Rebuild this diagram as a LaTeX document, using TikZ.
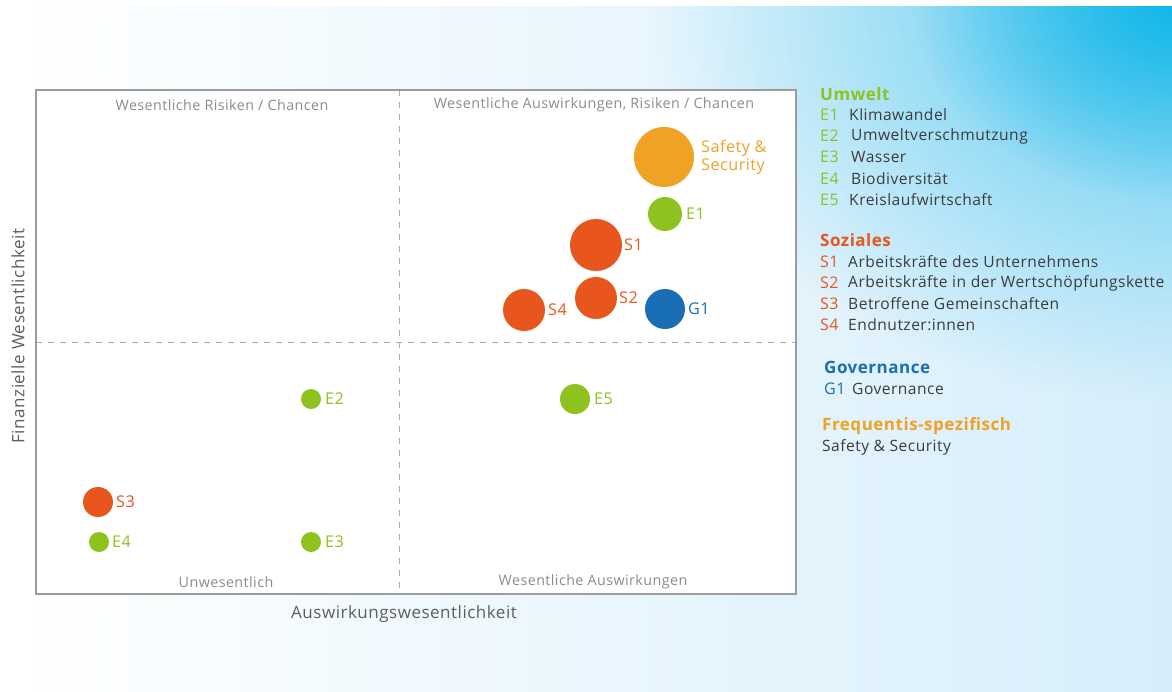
\documentclass[tikz,border=0pt]{standalone}
\usepackage{fontspec}
\setmainfont{Open Sans}[LetterSpace=3]
\usetikzlibrary{fadings}
\definecolor{cgreen}{HTML}{8DC21F}
\definecolor{cred}{HTML}{E8561E}
\definecolor{cblue}{HTML}{1A6EB4}
\definecolor{corange}{HTML}{F0A224}
\definecolor{ccyan}{HTML}{00B2E8}
\definecolor{cbglight}{HTML}{D6EEFB}
\definecolor{cframe}{HTML}{9C9C9C}
\definecolor{cdash}{HTML}{ABABAB}
\definecolor{cquad}{HTML}{8C8C8C}
\definecolor{caxis}{HTML}{5E5E5E}
\definecolor{ctext}{HTML}{3C3C3C}
\tikzfading[name=cornerfade, inner color=transparent!0, outer color=transparent!100]
\tikzset{
  bub/.style={circle, inner sep=0pt, draw=none},
  blabel/.style={anchor=west, inner sep=0pt, font=\fontsize{16.2}{18}\selectfont},
  quad/.style={inner sep=0pt, text=cquad, font=\fontsize{14.3}{16}\selectfont},
  axislbl/.style={inner sep=0pt, text=caxis, font=\fontsize{17}{19}\selectfont},
  leghead/.style={anchor=west, inner sep=0pt, font=\fontsize{17}{19}\selectfont\bfseries},
  legcode/.style={anchor=west, inner sep=0pt, font=\fontsize{16}{18}\selectfont},
  legtext/.style={anchor=west, inner sep=0pt, text=ctext, font=\fontsize{15.6}{18}\selectfont},
}
\begin{document}
\begin{tikzpicture}[x=1pt,y=-1pt]
\useasboundingbox (0,0) rectangle (1172,691);
% background
\shade[left color=white, right color=cbglight] (0,0) rectangle (1172,691);
\begin{scope}
  \clip (0,6) rectangle (1172,691);
  \fill[ccyan, opacity=0.6, path fading=cornerfade] (1172,0) ellipse (520 and 400);
  \fill[ccyan, opacity=0.8, path fading=cornerfade] (1172,0) ellipse (260 and 200);
\end{scope}
\fill[white] (0,0) rectangle (1172,6);
% chart frame
\fill[white] (36,90) rectangle (796,594);
\draw[cdash, line width=1pt, dash pattern=on 6pt off 6pt] (399,90) -- (399,594);
\draw[cdash, line width=1pt, dash pattern=on 6pt off 6pt] (36,342) -- (796,342);
\draw[cframe, line width=1.3pt] (36,90) rectangle (796,594);
% quadrant labels
\node[quad] (q1) at (222,105) {Wesentliche Risiken / Chancen};
\node[quad] (q2) at (594,105) {Wesentliche Auswirkungen, Risiken / Chancen};
\node[quad] (q3) at (226,582) {Unwesentlich};
\node[quad] (q4) at (593,582) {Wesentliche Auswirkungen};
% axis labels
\node[axislbl] (xl) at (404,614) {Auswirkungswesentlichkeit};
\node[axislbl, rotate=90] (yl) at (18,336) {Finanzielle Wesentlichkeit};
% bubbles
\node[bub, fill=corange, minimum size=60pt] (ss) at (664,157) {};
\node[bub, fill=cgreen, minimum size=34pt] (e1) at (665,214) {};
\node[bub, fill=cred, minimum size=52pt] (s1) at (596,245) {};
\node[bub, fill=cred, minimum size=42pt] (s2) at (596,298) {};
\node[bub, fill=cred, minimum size=42pt] (s4) at (524,310) {};
\node[bub, fill=cblue, minimum size=40pt] (g1) at (665,309) {};
\node[bub, fill=cgreen, minimum size=30pt] (e5) at (575,399) {};
\node[bub, fill=cgreen, minimum size=20pt] (e2) at (311,399) {};
\node[bub, fill=cred, minimum size=30pt] (s3) at (98,502) {};
\node[bub, fill=cgreen, minimum size=20pt] (e4) at (99,542) {};
\node[bub, fill=cgreen, minimum size=20pt] (e3) at (311,542) {};
% bubble labels
\node[blabel, text=corange, align=left] (ssl) at (701,157) {Safety \&\\Security};
\node[blabel, text=cgreen] (e1l) at (686,214) {E1};
\node[blabel, text=cred] (s1l) at (624,245) {S1};
\node[blabel, text=cred] (s2l) at (619,298) {S2};
\node[blabel, text=cred] (s4l) at (548,310) {S4};
\node[blabel, text=cblue] (g1l) at (688,309) {G1};
\node[blabel, text=cgreen] (e5l) at (594,399) {E5};
\node[blabel, text=cgreen] (e2l) at (325,399) {E2};
\node[blabel, text=cred] (s3l) at (116,502) {S3};
\node[blabel, text=cgreen] (e4l) at (112,542) {E4};
\node[blabel, text=cgreen] (e3l) at (325,542) {E3};
% legend
\node[leghead, text=cgreen] (hu) at (820,94) {Umwelt};
\node[legcode, text=cgreen] (le1) at (820,115) {E1};
\node[legtext] (lt1) at (849,115) {Klimawandel};
\node[legcode, text=cgreen] (le2) at (820,136) {E2};
\node[legtext] (lt2) at (851,136) {Umweltverschmutzung};
\node[legcode, text=cgreen] (le3) at (820,157) {E3};
\node[legtext] (lt3) at (851,157) {Wasser};
\node[legcode, text=cgreen] (le4) at (820,179) {E4};
\node[legtext] (lt4) at (851,179) {Biodiversität};
\node[legcode, text=cgreen] (le5) at (820,200) {E5};
\node[legtext] (lt5) at (849,200) {Kreislaufwirtschaft};
\node[leghead, text=cred] (hs) at (820,240) {Soziales};
\node[legcode, text=cred] (ls1) at (820,262) {S1};
\node[legtext] (lts1) at (848,262) {Arbeitskräfte des Unternehmens};
\node[legcode, text=cred] (ls2) at (820,283) {S2};
\node[legtext] (lts2) at (848,283) {Arbeitskräfte in der Wertschöpfungskette};
\node[legcode, text=cred] (ls3) at (820,304) {S3};
\node[legtext] (lts3) at (848,304) {Betroffene Gemeinschaften};
\node[legcode, text=cred] (ls4) at (820,325) {S4};
\node[legtext] (lts4) at (848,325) {Endnutzer:innen};
\node[leghead, text=cblue] (hg) at (824,367) {Governance};
\node[legcode, text=cblue] (lg1) at (824,389) {G1};
\node[legtext] (ltg1) at (852,389) {Governance};
\node[leghead, text=corange] (hf) at (822,426) {Frequentis-spezifisch};
\node[legtext] (ltf) at (822,447) {Safety \& Security};
\end{tikzpicture}
\end{document}
